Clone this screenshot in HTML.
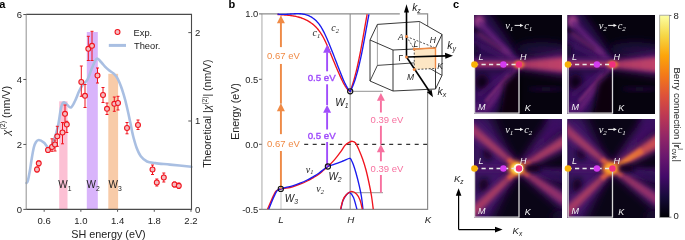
<!DOCTYPE html>
<html><head><meta charset="utf-8"><title>Figure</title>
<style>html,body{margin:0;padding:0;background:#fff;}svg{display:block;}</style></head>
<body>
<svg xmlns="http://www.w3.org/2000/svg" width="685" height="240" viewBox="0 0 685 240">
<defs>
<clipPath id="clipb"><rect x="262" y="0" width="166" height="209.3"/></clipPath>
<filter id="b0_8" x="-50%" y="-50%" width="200%" height="200%"><feGaussianBlur stdDeviation="0.8"/></filter>
<filter id="b1" x="-50%" y="-50%" width="200%" height="200%"><feGaussianBlur stdDeviation="1"/></filter>
<filter id="b1_2" x="-50%" y="-50%" width="200%" height="200%"><feGaussianBlur stdDeviation="1.2"/></filter>
<filter id="b1_5" x="-50%" y="-50%" width="200%" height="200%"><feGaussianBlur stdDeviation="1.5"/></filter>
<filter id="b1_8" x="-50%" y="-50%" width="200%" height="200%"><feGaussianBlur stdDeviation="1.8"/></filter>
<filter id="b2" x="-50%" y="-50%" width="200%" height="200%"><feGaussianBlur stdDeviation="2"/></filter>
<filter id="b2_2" x="-50%" y="-50%" width="200%" height="200%"><feGaussianBlur stdDeviation="2.2"/></filter>
<filter id="b2_5" x="-50%" y="-50%" width="200%" height="200%"><feGaussianBlur stdDeviation="2.5"/></filter>
<filter id="b2_8" x="-50%" y="-50%" width="200%" height="200%"><feGaussianBlur stdDeviation="2.8"/></filter>
<filter id="b3" x="-50%" y="-50%" width="200%" height="200%"><feGaussianBlur stdDeviation="3"/></filter>
<filter id="b4" x="-50%" y="-50%" width="200%" height="200%"><feGaussianBlur stdDeviation="4"/></filter>
<filter id="b4_5" x="-50%" y="-50%" width="200%" height="200%"><feGaussianBlur stdDeviation="4.5"/></filter>
<filter id="b5" x="-50%" y="-50%" width="200%" height="200%"><feGaussianBlur stdDeviation="5"/></filter>
<filter id="b6" x="-50%" y="-50%" width="200%" height="200%"><feGaussianBlur stdDeviation="6"/></filter>
<filter id="b8" x="-50%" y="-50%" width="200%" height="200%"><feGaussianBlur stdDeviation="8"/></filter>
<clipPath id="clip_tl"><rect x="0" y="0" width="88.0" height="99"/></clipPath>
<linearGradient id="g1" gradientUnits="userSpaceOnUse" x1="45.0" y1="49.0" x2="93.0" y2="48.6"><stop offset="0" stop-color="#4a146a"/><stop offset="1" stop-color="#561a70"/></linearGradient>
<linearGradient id="g2" gradientUnits="userSpaceOnUse" x1="45.0" y1="49.5" x2="93.0" y2="49.5"><stop offset="0" stop-color="#a83662"/><stop offset="1" stop-color="#c2446a"/></linearGradient>
<clipPath id="clip_tr"><rect x="0" y="0" width="87.5" height="99"/></clipPath>
<linearGradient id="g3" gradientUnits="userSpaceOnUse" x1="45.0" y1="49.0" x2="93.0" y2="48.6"><stop offset="0" stop-color="#4a146a"/><stop offset="1" stop-color="#561a70"/></linearGradient>
<linearGradient id="g4" gradientUnits="userSpaceOnUse" x1="45.0" y1="49.5" x2="93.0" y2="49.5"><stop offset="0" stop-color="#a83662"/><stop offset="1" stop-color="#c2446a"/></linearGradient>
<clipPath id="clip_bl"><rect x="0" y="0" width="88.0" height="99"/></clipPath>
<linearGradient id="g5" gradientUnits="userSpaceOnUse" x1="57.0" y1="52.5" x2="96.8" y2="56.0"><stop offset="0" stop-color="#3e1266"/><stop offset="1" stop-color="#4a1468"/></linearGradient>
<linearGradient id="g6" gradientUnits="userSpaceOnUse" x1="45.0" y1="49.5" x2="86.8" y2="-0.3"><stop offset="0" stop-color="#4a1468"/><stop offset="1" stop-color="#3a1062"/></linearGradient>
<linearGradient id="g7" gradientUnits="userSpaceOnUse" x1="45.0" y1="49.5" x2="92.0" y2="59.5"><stop offset="0" stop-color="#3a1062"/><stop offset="1" stop-color="#2a0c4e"/></linearGradient>
<linearGradient id="g8" gradientUnits="userSpaceOnUse" x1="45.0" y1="49.5" x2="-10.2" y2="3.2"><stop offset="0" stop-color="#5a1a72"/><stop offset="1" stop-color="#42136a"/></linearGradient>
<linearGradient id="g9" gradientUnits="userSpaceOnUse" x1="45.0" y1="49.5" x2="-10.2" y2="3.2"><stop offset="0" stop-color="#c24a5e"/><stop offset="1" stop-color="#9a3468"/></linearGradient>
<linearGradient id="g10" gradientUnits="userSpaceOnUse" x1="45.0" y1="49.5" x2="34.0" y2="40.2"><stop offset="0" stop-color="#ee7a34"/><stop offset="1" stop-color="#d0504c"/></linearGradient>
<linearGradient id="g11" gradientUnits="userSpaceOnUse" x1="45.0" y1="49.5" x2="94.7" y2="19.6"><stop offset="0" stop-color="#5a1a72"/><stop offset="1" stop-color="#42136a"/></linearGradient>
<linearGradient id="g12" gradientUnits="userSpaceOnUse" x1="45.0" y1="49.5" x2="94.7" y2="19.6"><stop offset="0" stop-color="#bc4460"/><stop offset="1" stop-color="#a63a64"/></linearGradient>
<linearGradient id="g13" gradientUnits="userSpaceOnUse" x1="45.0" y1="49.5" x2="55.9" y2="42.9"><stop offset="0" stop-color="#e86e3a"/><stop offset="1" stop-color="#c84c54"/></linearGradient>
<linearGradient id="g14" gradientUnits="userSpaceOnUse" x1="45.0" y1="49.5" x2="-4.3" y2="96.3"><stop offset="0" stop-color="#5a1a72"/><stop offset="1" stop-color="#42136a"/></linearGradient>
<linearGradient id="g15" gradientUnits="userSpaceOnUse" x1="45.0" y1="49.5" x2="-4.3" y2="96.3"><stop offset="0" stop-color="#c44c5a"/><stop offset="1" stop-color="#a23668"/></linearGradient>
<linearGradient id="g16" gradientUnits="userSpaceOnUse" x1="45.0" y1="49.5" x2="34.1" y2="59.8"><stop offset="0" stop-color="#ee7a34"/><stop offset="1" stop-color="#d0504c"/></linearGradient>
<linearGradient id="g17" gradientUnits="userSpaceOnUse" x1="45.0" y1="49.5" x2="94.1" y2="83.9"><stop offset="0" stop-color="#521870"/><stop offset="1" stop-color="#3c1164"/></linearGradient>
<linearGradient id="g18" gradientUnits="userSpaceOnUse" x1="45.0" y1="49.5" x2="94.1" y2="83.9"><stop offset="0" stop-color="#b8405e"/><stop offset="1" stop-color="#8a2c70"/></linearGradient>
<linearGradient id="g19" gradientUnits="userSpaceOnUse" x1="45.0" y1="49.5" x2="54.8" y2="56.4"><stop offset="0" stop-color="#e06a3c"/><stop offset="1" stop-color="#c04858"/></linearGradient>
<clipPath id="clip_br"><rect x="0" y="0" width="87.5" height="99"/></clipPath>
<linearGradient id="g20" gradientUnits="userSpaceOnUse" x1="57.0" y1="52.5" x2="96.8" y2="56.0"><stop offset="0" stop-color="#3e1266"/><stop offset="1" stop-color="#4a1468"/></linearGradient>
<linearGradient id="g21" gradientUnits="userSpaceOnUse" x1="45.0" y1="49.5" x2="86.8" y2="-0.3"><stop offset="0" stop-color="#4a1468"/><stop offset="1" stop-color="#3a1062"/></linearGradient>
<linearGradient id="g22" gradientUnits="userSpaceOnUse" x1="45.0" y1="49.5" x2="92.0" y2="59.5"><stop offset="0" stop-color="#3a1062"/><stop offset="1" stop-color="#2a0c4e"/></linearGradient>
<linearGradient id="g23" gradientUnits="userSpaceOnUse" x1="45.0" y1="49.5" x2="-10.2" y2="3.2"><stop offset="0" stop-color="#5a1a72"/><stop offset="1" stop-color="#42136a"/></linearGradient>
<linearGradient id="g24" gradientUnits="userSpaceOnUse" x1="45.0" y1="49.5" x2="-10.2" y2="3.2"><stop offset="0" stop-color="#c24a5e"/><stop offset="1" stop-color="#9a3468"/></linearGradient>
<linearGradient id="g25" gradientUnits="userSpaceOnUse" x1="45.0" y1="49.5" x2="34.0" y2="40.2"><stop offset="0" stop-color="#ee7a34"/><stop offset="1" stop-color="#d0504c"/></linearGradient>
<linearGradient id="g26" gradientUnits="userSpaceOnUse" x1="45.0" y1="49.5" x2="94.7" y2="19.6"><stop offset="0" stop-color="#6a1e72"/><stop offset="1" stop-color="#4e1670"/></linearGradient>
<linearGradient id="g27" gradientUnits="userSpaceOnUse" x1="45.0" y1="49.5" x2="94.7" y2="19.6"><stop offset="0" stop-color="#d85a48"/><stop offset="1" stop-color="#c84c54"/></linearGradient>
<linearGradient id="g28" gradientUnits="userSpaceOnUse" x1="45.0" y1="49.5" x2="74.8" y2="31.6"><stop offset="0" stop-color="#f08a30"/><stop offset="1" stop-color="#e06a3a"/></linearGradient>
<linearGradient id="g29" gradientUnits="userSpaceOnUse" x1="45.0" y1="49.5" x2="-4.3" y2="96.3"><stop offset="0" stop-color="#5a1a72"/><stop offset="1" stop-color="#42136a"/></linearGradient>
<linearGradient id="g30" gradientUnits="userSpaceOnUse" x1="45.0" y1="49.5" x2="-4.3" y2="96.3"><stop offset="0" stop-color="#c44c5a"/><stop offset="1" stop-color="#a23668"/></linearGradient>
<linearGradient id="g31" gradientUnits="userSpaceOnUse" x1="45.0" y1="49.5" x2="34.1" y2="59.8"><stop offset="0" stop-color="#ee7a34"/><stop offset="1" stop-color="#d0504c"/></linearGradient>
<linearGradient id="g32" gradientUnits="userSpaceOnUse" x1="45.0" y1="49.5" x2="94.1" y2="83.9"><stop offset="0" stop-color="#521870"/><stop offset="1" stop-color="#3c1164"/></linearGradient>
<linearGradient id="g33" gradientUnits="userSpaceOnUse" x1="45.0" y1="49.5" x2="94.1" y2="83.9"><stop offset="0" stop-color="#b8405e"/><stop offset="1" stop-color="#8a2c70"/></linearGradient>
<linearGradient id="g34" gradientUnits="userSpaceOnUse" x1="45.0" y1="49.5" x2="54.8" y2="56.4"><stop offset="0" stop-color="#e06a3c"/><stop offset="1" stop-color="#c04858"/></linearGradient>
<linearGradient id="cbar" x1="0" y1="1" x2="0" y2="0"><stop offset="0.00" stop-color="#000004"/><stop offset="0.10" stop-color="#160b39"/><stop offset="0.20" stop-color="#420a68"/><stop offset="0.30" stop-color="#6a176e"/><stop offset="0.40" stop-color="#932667"/><stop offset="0.50" stop-color="#bc3754"/><stop offset="0.60" stop-color="#dd513a"/><stop offset="0.70" stop-color="#f37819"/><stop offset="0.80" stop-color="#fca50a"/><stop offset="0.90" stop-color="#f6d746"/><stop offset="1.00" stop-color="#fcffa4"/></linearGradient>
</defs>
<rect width="685" height="240" fill="#fff"/>
<g id="pa">
<text x="-0.8" y="8" font-family="'Liberation Sans', Arial, Helvetica, sans-serif" font-weight="bold" font-size="11">a</text>
<rect x="59.2" y="101.3" width="8.3" height="108.1" fill="#fcc0d4"/>
<rect x="86.8" y="32" width="11" height="177.4" fill="#d9b4fb"/>
<rect x="108.3" y="73.8" width="9.8" height="135.6" fill="#f8cba8"/>
<text x="58.3" y="188.3" font-family="'Liberation Sans', Arial, Helvetica, sans-serif" font-size="10" fill="#222">W<tspan font-size="6.8" dy="2.2">1</tspan></text>
<text x="86.6" y="188.3" font-family="'Liberation Sans', Arial, Helvetica, sans-serif" font-size="10" fill="#222">W<tspan font-size="6.8" dy="2.2">2</tspan></text>
<text x="108.6" y="188.3" font-family="'Liberation Sans', Arial, Helvetica, sans-serif" font-size="10" fill="#222">W<tspan font-size="6.8" dy="2.2">3</tspan></text>
<path d="M26.50,183.00 C26.72,182.67 27.22,183.17 27.80,181.00 C28.38,178.83 29.38,173.50 30.00,170.00 C30.62,166.50 30.87,163.75 31.50,160.00 C32.13,156.25 33.05,150.50 33.80,147.50 C34.55,144.50 35.17,143.25 36.00,142.00 C36.83,140.75 37.50,139.92 38.80,140.00 C40.10,140.08 42.35,141.33 43.80,142.50 C45.25,143.67 46.47,146.08 47.50,147.00 C48.53,147.92 48.92,149.17 50.00,148.00 C51.08,146.83 52.67,143.67 54.00,140.00 C55.33,136.33 56.83,131.33 58.00,126.00 C59.17,120.67 60.12,111.92 61.00,108.00 C61.88,104.08 62.38,103.17 63.30,102.50 C64.22,101.83 65.25,103.17 66.50,104.00 C67.75,104.83 69.38,108.00 70.80,107.50 C72.22,107.00 73.60,103.75 75.00,101.00 C76.40,98.25 77.87,93.75 79.20,91.00 C80.53,88.25 81.62,86.40 83.00,84.50 C84.38,82.60 86.00,82.35 87.50,79.60 C89.00,76.85 90.47,71.47 92.00,68.00 C93.53,64.53 95.20,59.75 96.70,58.75 C98.20,57.75 99.62,60.67 101.00,62.00 C102.38,63.33 103.67,65.32 105.00,66.70 C106.33,68.08 107.62,69.20 109.00,70.30 C110.38,71.40 112.08,72.27 113.30,73.30 C114.52,74.33 115.38,75.22 116.30,76.50 C117.22,77.78 117.98,79.25 118.80,81.00 C119.62,82.75 120.45,84.95 121.20,87.00 C121.95,89.05 122.63,91.13 123.30,93.30 C123.97,95.47 124.60,97.72 125.20,100.00 C125.80,102.28 126.33,104.58 126.90,107.00 C127.47,109.42 128.02,111.83 128.60,114.50 C129.18,117.17 129.83,120.25 130.40,123.00 C130.97,125.75 131.48,128.58 132.00,131.00 C132.52,133.42 132.72,134.67 133.50,137.50 C134.28,140.33 135.48,144.88 136.70,148.00 C137.92,151.12 139.08,154.00 140.80,156.25 C142.52,158.50 144.57,160.36 147.00,161.50 C149.43,162.64 151.57,162.58 155.40,163.10 C159.23,163.62 164.02,163.98 170.00,164.60 C175.98,165.22 187.75,166.43 191.30,166.80" fill="none" stroke="#a9bfe2" stroke-width="2.6" stroke-linecap="round" stroke-linejoin="round"/>
<path d="M37.00,167.00 V172.00 M35.50,167.00 h3 M35.50,172.00 h3" stroke="#f0141e" stroke-width="1" fill="none"/>
<path d="M38.75,161.00 V166.00 M37.25,161.00 h3 M37.25,166.00 h3" stroke="#f0141e" stroke-width="1" fill="none"/>
<path d="M48.00,147.50 V152.50 M46.50,147.50 h3 M46.50,152.50 h3" stroke="#f0141e" stroke-width="1" fill="none"/>
<path d="M52.00,138.80 V151.30 M50.50,138.80 h3 M50.50,151.30 h3" stroke="#f0141e" stroke-width="1" fill="none"/>
<path d="M55.00,140.00 V151.00 M53.50,140.00 h3 M53.50,151.00 h3" stroke="#f0141e" stroke-width="1" fill="none"/>
<path d="M57.30,126.30 V146.30 M55.80,126.30 h3 M55.80,146.30 h3" stroke="#f0141e" stroke-width="1" fill="none"/>
<path d="M62.50,122.50 V143.80 M61.00,122.50 h3 M61.00,143.80 h3" stroke="#f0141e" stroke-width="1" fill="none"/>
<path d="M65.00,105.00 V123.80 M63.50,105.00 h3 M63.50,123.80 h3" stroke="#f0141e" stroke-width="1" fill="none"/>
<path d="M66.80,121.30 V132.50 M65.30,121.30 h3 M65.30,132.50 h3" stroke="#f0141e" stroke-width="1" fill="none"/>
<path d="M81.30,66.00 V96.30 M79.80,66.00 h3 M79.80,96.30 h3" stroke="#f0141e" stroke-width="1" fill="none"/>
<path d="M85.00,84.50 V107.50 M83.50,84.50 h3 M83.50,107.50 h3" stroke="#f0141e" stroke-width="1" fill="none"/>
<path d="M88.30,36.30 V60.50 M86.80,36.30 h3 M86.80,60.50 h3" stroke="#f0141e" stroke-width="1" fill="none"/>
<path d="M92.00,31.30 V60.50 M90.50,31.30 h3 M90.50,60.50 h3" stroke="#f0141e" stroke-width="1" fill="none"/>
<path d="M97.50,68.00 V83.00 M96.00,68.00 h3 M96.00,83.00 h3" stroke="#f0141e" stroke-width="1" fill="none"/>
<path d="M103.00,87.50 V102.50 M101.50,87.50 h3 M101.50,102.50 h3" stroke="#f0141e" stroke-width="1" fill="none"/>
<path d="M107.00,103.00 V114.50 M105.50,103.00 h3 M105.50,114.50 h3" stroke="#f0141e" stroke-width="1" fill="none"/>
<path d="M114.30,97.00 V111.30 M112.80,97.00 h3 M112.80,111.30 h3" stroke="#f0141e" stroke-width="1" fill="none"/>
<path d="M118.00,96.30 V110.00 M116.50,96.30 h3 M116.50,110.00 h3" stroke="#f0141e" stroke-width="1" fill="none"/>
<path d="M127.00,122.50 V133.80 M125.50,122.50 h3 M125.50,133.80 h3" stroke="#f0141e" stroke-width="1" fill="none"/>
<path d="M138.00,120.00 V129.50 M136.50,120.00 h3 M136.50,129.50 h3" stroke="#f0141e" stroke-width="1" fill="none"/>
<path d="M152.50,165.00 V174.50 M151.00,165.00 h3 M151.00,174.50 h3" stroke="#f0141e" stroke-width="1" fill="none"/>
<path d="M156.80,179.00 V186.00 M155.30,179.00 h3 M155.30,186.00 h3" stroke="#f0141e" stroke-width="1" fill="none"/>
<path d="M163.80,173.00 V182.00 M162.30,173.00 h3 M162.30,182.00 h3" stroke="#f0141e" stroke-width="1" fill="none"/>
<path d="M174.50,182.00 V187.00 M173.00,182.00 h3 M173.00,187.00 h3" stroke="#f0141e" stroke-width="1" fill="none"/>
<path d="M178.80,183.00 V188.50 M177.30,183.00 h3 M177.30,188.50 h3" stroke="#f0141e" stroke-width="1" fill="none"/>
<circle cx="37.00" cy="169.50" r="2.45" fill="#f4bcc0" stroke="#f0141e" stroke-width="1.1"/>
<circle cx="38.75" cy="163.30" r="2.45" fill="#f4bcc0" stroke="#f0141e" stroke-width="1.1"/>
<circle cx="48.00" cy="150.00" r="2.45" fill="#f4bcc0" stroke="#f0141e" stroke-width="1.1"/>
<circle cx="52.00" cy="147.00" r="2.45" fill="#f4bcc0" stroke="#f0141e" stroke-width="1.1"/>
<circle cx="55.00" cy="144.50" r="2.45" fill="#f4bcc0" stroke="#f0141e" stroke-width="1.1"/>
<circle cx="57.30" cy="136.30" r="2.45" fill="#f4bcc0" stroke="#f0141e" stroke-width="1.1"/>
<circle cx="62.50" cy="132.50" r="2.45" fill="#f4bcc0" stroke="#f0141e" stroke-width="1.1"/>
<circle cx="65.00" cy="113.80" r="2.45" fill="#f4bcc0" stroke="#f0141e" stroke-width="1.1"/>
<circle cx="66.80" cy="124.50" r="2.45" fill="#f4bcc0" stroke="#f0141e" stroke-width="1.1"/>
<circle cx="81.30" cy="82.00" r="2.45" fill="#f4bcc0" stroke="#f0141e" stroke-width="1.1"/>
<circle cx="85.00" cy="95.80" r="2.45" fill="#f4bcc0" stroke="#f0141e" stroke-width="1.1"/>
<circle cx="88.30" cy="48.80" r="2.45" fill="#f4bcc0" stroke="#f0141e" stroke-width="1.1"/>
<circle cx="92.00" cy="45.80" r="2.45" fill="#f4bcc0" stroke="#f0141e" stroke-width="1.1"/>
<circle cx="97.50" cy="75.50" r="2.45" fill="#f4bcc0" stroke="#f0141e" stroke-width="1.1"/>
<circle cx="103.00" cy="95.00" r="2.45" fill="#f4bcc0" stroke="#f0141e" stroke-width="1.1"/>
<circle cx="107.00" cy="108.80" r="2.45" fill="#f4bcc0" stroke="#f0141e" stroke-width="1.1"/>
<circle cx="114.30" cy="103.80" r="2.45" fill="#f4bcc0" stroke="#f0141e" stroke-width="1.1"/>
<circle cx="118.00" cy="103.00" r="2.45" fill="#f4bcc0" stroke="#f0141e" stroke-width="1.1"/>
<circle cx="127.00" cy="128.00" r="2.45" fill="#f4bcc0" stroke="#f0141e" stroke-width="1.1"/>
<circle cx="138.00" cy="125.00" r="2.45" fill="#f4bcc0" stroke="#f0141e" stroke-width="1.1"/>
<circle cx="152.50" cy="169.50" r="2.45" fill="#f4bcc0" stroke="#f0141e" stroke-width="1.1"/>
<circle cx="156.80" cy="182.50" r="2.45" fill="#f4bcc0" stroke="#f0141e" stroke-width="1.1"/>
<circle cx="163.80" cy="177.50" r="2.45" fill="#f4bcc0" stroke="#f0141e" stroke-width="1.1"/>
<circle cx="174.50" cy="184.50" r="2.45" fill="#f4bcc0" stroke="#f0141e" stroke-width="1.1"/>
<circle cx="178.80" cy="185.80" r="2.45" fill="#f4bcc0" stroke="#f0141e" stroke-width="1.1"/>
<circle cx="117.5" cy="32" r="2.45" fill="#f4bcc0" stroke="#f0141e" stroke-width="1.1"/>
<line x1="108.8" y1="45.4" x2="126" y2="45.4" stroke="#a9bfe2" stroke-width="3"/>
<text x="133.6" y="35.5" font-family="'Liberation Sans', Arial, Helvetica, sans-serif" font-size="9.3" fill="#222">Exp.</text>
<text x="134" y="49.3" font-family="'Liberation Sans', Arial, Helvetica, sans-serif" font-size="9.3" fill="#222">Theor.</text>
<line x1="26.2" y1="14.4" x2="26.2" y2="209.4" stroke="#9a9a9a" stroke-width="1.1"/>
<path d="M26.2,14.4 H191.5 V209.4 H26.2" fill="none" stroke="#4a4a4a" stroke-width="1.1"/>
<line x1="23.3" y1="209.40" x2="26.2" y2="209.40" stroke="#555" stroke-width="1"/>
<text x="22" y="212.80" text-anchor="end" font-family="'Liberation Sans', Arial, Helvetica, sans-serif" font-size="9.5" fill="#222">0</text>
<line x1="23.3" y1="144.44" x2="26.2" y2="144.44" stroke="#555" stroke-width="1"/>
<text x="22" y="147.84" text-anchor="end" font-family="'Liberation Sans', Arial, Helvetica, sans-serif" font-size="9.5" fill="#222">2</text>
<line x1="23.3" y1="79.48" x2="26.2" y2="79.48" stroke="#555" stroke-width="1"/>
<text x="22" y="82.88" text-anchor="end" font-family="'Liberation Sans', Arial, Helvetica, sans-serif" font-size="9.5" fill="#222">4</text>
<line x1="23.3" y1="14.52" x2="26.2" y2="14.52" stroke="#555" stroke-width="1"/>
<text x="22" y="17.92" text-anchor="end" font-family="'Liberation Sans', Arial, Helvetica, sans-serif" font-size="9.5" fill="#222">6</text>
<text x="195" y="212.80" font-family="'Liberation Sans', Arial, Helvetica, sans-serif" font-size="9.5" fill="#222">0</text>
<line x1="188.3" y1="121.00" x2="191.5" y2="121.00" stroke="#555" stroke-width="1"/>
<text x="195" y="124.40" font-family="'Liberation Sans', Arial, Helvetica, sans-serif" font-size="9.5" fill="#222">1</text>
<line x1="188.3" y1="32.60" x2="191.5" y2="32.60" stroke="#555" stroke-width="1"/>
<text x="195" y="36.00" font-family="'Liberation Sans', Arial, Helvetica, sans-serif" font-size="9.5" fill="#222">2</text>
<line x1="44.16" y1="209.4" x2="44.16" y2="211.8" stroke="#555" stroke-width="1"/>
<text x="44.16" y="223.6" text-anchor="middle" font-family="'Liberation Sans', Arial, Helvetica, sans-serif" font-size="9.5" fill="#222">0.6</text>
<line x1="80.87" y1="209.4" x2="80.87" y2="211.8" stroke="#555" stroke-width="1"/>
<text x="80.87" y="223.6" text-anchor="middle" font-family="'Liberation Sans', Arial, Helvetica, sans-serif" font-size="9.5" fill="#222">1.0</text>
<line x1="117.57" y1="209.4" x2="117.57" y2="211.8" stroke="#555" stroke-width="1"/>
<text x="117.57" y="223.6" text-anchor="middle" font-family="'Liberation Sans', Arial, Helvetica, sans-serif" font-size="9.5" fill="#222">1.4</text>
<line x1="154.27" y1="209.4" x2="154.27" y2="211.8" stroke="#555" stroke-width="1"/>
<text x="154.27" y="223.6" text-anchor="middle" font-family="'Liberation Sans', Arial, Helvetica, sans-serif" font-size="9.5" fill="#222">1.8</text>
<line x1="190.98" y1="209.4" x2="190.98" y2="211.8" stroke="#555" stroke-width="1"/>
<text x="190.98" y="223.6" text-anchor="middle" font-family="'Liberation Sans', Arial, Helvetica, sans-serif" font-size="9.5" fill="#222">2.2</text>
<text x="108.5" y="237.9" text-anchor="middle" font-family="'Liberation Sans', Arial, Helvetica, sans-serif" font-size="10.8" fill="#222">SH energy (eV)</text>
<text transform="translate(9.6,110.7) rotate(-90)" text-anchor="middle" font-family="'Liberation Sans', Arial, Helvetica, sans-serif" font-size="10.7" fill="#222"><tspan font-style="italic">χ</tspan><tspan font-size="7" dy="-4.3">(2)</tspan><tspan dy="4.3"> (nm/V)</tspan></text>
<text transform="translate(211.3,113.6) rotate(-90)" text-anchor="middle" font-family="'Liberation Sans', Arial, Helvetica, sans-serif" font-size="10.5" fill="#222">Theoretical |<tspan font-style="italic">χ</tspan><tspan font-size="6.5" dy="-4">(2)</tspan><tspan dy="4">| (nm/V)</tspan></text>
</g>
<g id="pb">
<text x="228.5" y="8" font-family="'Liberation Sans', Arial, Helvetica, sans-serif" font-weight="bold" font-size="11">b</text>
<line x1="281" y1="14" x2="281" y2="209.3" stroke="#d2d2d2" stroke-width="1.3"/>
<line x1="350.2" y1="14" x2="350.2" y2="209.3" stroke="#a8a8a8" stroke-width="1.4"/>
<line x1="350.2" y1="91.4" x2="383" y2="91.4" stroke="#a8a8a8" stroke-width="1.2"/>
<line x1="350.2" y1="192.6" x2="383" y2="192.6" stroke="#a8a8a8" stroke-width="1.2"/>
<line x1="261.9" y1="13.8" x2="261.9" y2="209.3" stroke="#cfcfcf" stroke-width="1.8"/>
<path d="M261.9,13.9 H427.6 V209.3 H261.9" fill="none" stroke="#8c8c8c" stroke-width="1.2"/>
<line x1="259" y1="13.90" x2="261.9" y2="13.90" stroke="#666" stroke-width="1"/>
<text x="258.3" y="17.30" text-anchor="end" font-family="'Liberation Sans', Arial, Helvetica, sans-serif" font-size="9.4" fill="#222">1.0</text>
<line x1="259" y1="79.30" x2="261.9" y2="79.30" stroke="#666" stroke-width="1"/>
<text x="258.3" y="82.70" text-anchor="end" font-family="'Liberation Sans', Arial, Helvetica, sans-serif" font-size="9.4" fill="#222">0.5</text>
<line x1="259" y1="144.30" x2="261.9" y2="144.30" stroke="#666" stroke-width="1"/>
<text x="258.3" y="147.70" text-anchor="end" font-family="'Liberation Sans', Arial, Helvetica, sans-serif" font-size="9.4" fill="#222">0.0</text>
<line x1="259" y1="209.30" x2="261.9" y2="209.30" stroke="#666" stroke-width="1"/>
<text x="258.3" y="212.70" text-anchor="end" font-family="'Liberation Sans', Arial, Helvetica, sans-serif" font-size="9.4" fill="#222">-0.5</text>
<text x="281.0" y="223.2" text-anchor="middle" font-family="'Liberation Sans', Arial, Helvetica, sans-serif" font-style="italic" font-size="9.8" fill="#222">L</text>
<text x="350.8" y="223.2" text-anchor="middle" font-family="'Liberation Sans', Arial, Helvetica, sans-serif" font-style="italic" font-size="9.8" fill="#222">H</text>
<text x="428.0" y="223.2" text-anchor="middle" font-family="'Liberation Sans', Arial, Helvetica, sans-serif" font-style="italic" font-size="9.8" fill="#222">K</text>
<text transform="translate(238.6,111.5) rotate(-90)" text-anchor="middle" font-family="'Liberation Sans', Arial, Helvetica, sans-serif" font-size="10.6" fill="#222">Energy (eV)</text>
<line x1="304.2" y1="144.3" x2="427.6" y2="144.3" stroke="#333" stroke-width="1.2" stroke-dasharray="4,4.5"/>
<g fill="none" stroke-width="1.35" clip-path="url(#clipb)">
<path d="M277.50,14.50 L278.30,14.48 L279.10,14.55 L279.90,14.62 L280.70,14.68 L281.50,14.74 L282.30,14.81 L283.10,14.87 L283.90,14.93 L284.70,14.99 L285.50,15.06 L286.30,15.13 L287.10,15.20 L287.90,15.27 L288.70,15.35 L289.50,15.44 L290.30,15.54 L291.10,15.64 L291.90,15.75 L292.70,15.87 L293.50,15.99 L294.30,16.13 L295.10,16.28 L295.90,16.45 L296.70,16.62 L297.50,16.81 L298.30,17.02 L299.10,17.24 L299.90,17.48 L300.70,17.73 L301.50,18.00 L302.30,18.29 L303.10,18.60 L303.90,18.93 L304.70,19.28 L305.50,19.66 L306.30,20.05 L307.10,20.47 L307.90,20.91 L308.70,21.38 L309.50,21.88 L310.30,22.40 L311.10,22.95 L311.90,23.53 L312.70,24.14 L313.50,24.80 L314.30,25.50 L315.10,26.24 L315.90,27.04 L316.70,27.89 L317.50,28.80 L318.30,29.76 L319.10,30.79 L319.90,31.89 L320.70,33.06 L321.50,34.31 L322.30,35.64 L323.10,37.04 L323.90,38.54 L324.70,40.12 L325.50,41.77 L326.30,43.50 L327.10,45.29 L327.90,47.13 L328.70,49.01 L329.50,50.93 L330.30,52.87 L331.10,54.82 L331.90,56.78 L332.70,58.73 L333.50,60.67 L334.30,62.60 L335.10,64.52 L335.90,66.42 L336.70,68.30 L337.50,70.17 L338.30,72.01 L339.10,73.84 L339.90,75.63 L340.70,77.40 L341.50,79.11 L342.30,80.76 L343.10,82.35 L343.90,83.85 L344.70,85.25 L345.50,86.56 L346.30,87.74 L347.10,88.80 L347.90,89.73 L348.70,90.50 L349.50,91.10 L350.30,91.54 L350.30,91.30 L351.10,88.85 L351.90,86.52 L352.70,84.05 L353.50,81.42 L354.30,78.63 L355.10,75.68 L355.90,72.58 L356.70,69.31 L357.50,65.87 L358.30,62.25 L359.10,58.47 L359.90,54.50 L360.70,50.36 L361.50,46.05 L362.30,41.61 L363.10,37.08 L363.90,32.50 L364.70,27.92 L365.50,23.37 L366.30,18.90 L367.10,14.53 L367.20,14.30" stroke="#f0141e" stroke-linejoin="round"/>
<path d="M277.50,14.10 L278.30,14.13 L279.10,14.23 L279.90,14.31 L280.70,14.37 L281.50,14.41 L282.30,14.43 L283.10,14.43 L283.90,14.43 L284.70,14.41 L285.50,14.37 L286.30,14.33 L287.10,14.28 L287.90,14.23 L288.70,14.17 L289.50,14.11 L290.30,14.04 L291.10,13.98 L291.90,13.92 L292.70,13.86 L293.50,13.80 L294.30,13.75 L295.10,13.71 L295.90,13.68 L296.70,13.66 L297.50,13.65 L298.30,13.66 L299.10,13.68 L299.90,13.72 L300.70,13.78 L301.50,13.86 L302.30,13.96 L303.10,14.08 L303.90,14.23 L304.70,14.40 L305.50,14.61 L306.30,14.84 L307.10,15.10 L307.90,15.40 L308.70,15.73 L309.50,16.10 L310.30,16.51 L311.10,16.95 L311.90,17.43 L312.70,17.96 L313.50,18.53 L314.30,19.15 L315.10,19.82 L315.90,20.55 L316.70,21.35 L317.50,22.21 L318.30,23.15 L319.10,24.17 L319.90,25.27 L320.70,26.46 L321.50,27.75 L322.30,29.14 L323.10,30.62 L323.90,32.18 L324.70,33.81 L325.50,35.51 L326.30,37.27 L327.10,39.08 L327.90,40.94 L328.70,42.83 L329.50,44.76 L330.30,46.73 L331.10,48.72 L331.90,50.73 L332.70,52.77 L333.50,54.82 L334.30,56.88 L335.10,58.95 L335.90,61.03 L336.70,63.10 L337.50,65.17 L338.30,67.23 L339.10,69.28 L339.90,71.32 L340.70,73.33 L341.50,75.32 L342.30,77.26 L343.10,79.16 L343.90,80.98 L344.70,82.73 L345.50,84.38 L346.30,85.92 L347.10,87.33 L347.90,88.62 L348.70,89.75 L349.50,90.71 L350.30,91.50 L350.30,91.30 L351.10,89.72 L351.90,88.07 L352.70,86.24 L353.50,84.23 L354.30,82.04 L355.10,79.67 L355.90,77.12 L356.70,74.39 L357.50,71.49 L358.30,68.40 L359.10,65.14 L359.90,61.70 L360.70,58.09 L361.50,54.30 L362.30,50.33 L363.10,46.20 L363.90,41.95 L364.70,37.59 L365.50,33.18 L366.30,28.73 L367.10,24.28 L367.90,19.87 L368.70,15.53 L369.00,14.30" stroke="#1a1aee" stroke-linejoin="round"/>
<path d="M267.40,209.50 C268.05,208.00 270.02,203.37 271.30,200.50 C272.58,197.63 273.98,194.08 275.10,192.30 C276.22,190.52 277.05,190.37 278.00,189.80 C278.95,189.23 279.47,189.17 280.80,188.90 C282.13,188.63 284.03,188.55 286.00,188.20 C287.97,187.85 290.27,187.47 292.60,186.80 C294.93,186.13 297.57,185.17 300.00,184.20 C302.43,183.23 305.03,182.07 307.20,181.00 C309.37,179.93 311.07,178.92 313.00,177.80 C314.93,176.68 317.05,175.57 318.80,174.30 C320.55,173.03 321.98,171.50 323.50,170.20 C325.02,168.90 326.05,168.27 327.90,166.50 C329.75,164.73 332.45,162.07 334.60,159.60 C336.75,157.13 339.07,154.07 340.80,151.70 C342.53,149.33 343.60,146.97 345.00,145.40 C346.40,143.83 347.98,142.98 349.20,142.30 C350.42,141.62 351.25,141.18 352.30,141.30 C353.35,141.42 354.38,141.55 355.50,143.00 C356.62,144.45 357.82,147.33 359.00,150.00 C360.18,152.67 361.43,155.67 362.60,159.00 C363.77,162.33 364.93,166.00 366.00,170.00 C367.07,174.00 368.08,178.67 369.00,183.00 C369.92,187.33 370.78,191.58 371.50,196.00 C372.22,200.42 373.00,207.25 373.30,209.50" stroke="#f0141e"/>
<path d="M268.60,209.50 C269.22,208.00 271.07,203.37 272.30,200.50 C273.53,197.63 274.97,194.12 276.00,192.30 C277.03,190.48 277.70,190.17 278.50,189.60 C279.30,189.03 279.55,189.27 280.80,188.90 C282.05,188.53 284.03,187.92 286.00,187.40 C287.97,186.88 290.27,186.50 292.60,185.80 C294.93,185.10 297.57,184.17 300.00,183.20 C302.43,182.23 305.03,181.07 307.20,180.00 C309.37,178.93 311.07,177.92 313.00,176.80 C314.93,175.68 317.05,174.52 318.80,173.30 C320.55,172.08 321.98,170.63 323.50,169.50 C325.02,168.37 326.05,167.38 327.90,166.50 C329.75,165.62 332.10,165.12 334.60,164.20 C337.10,163.28 340.40,161.98 342.90,161.00 C345.40,160.02 348.17,158.38 349.60,158.30 C351.03,158.22 350.88,159.47 351.50,160.50 C352.12,161.53 352.55,162.42 353.30,164.50 C354.05,166.58 354.98,169.37 356.00,173.00 C357.02,176.63 358.48,182.30 359.40,186.30 C360.32,190.30 360.90,193.13 361.50,197.00 C362.10,200.87 362.75,207.42 363.00,209.50" stroke="#1a1aee"/>
<path d="M340.80,209.50 C341.17,208.00 342.05,202.95 343.00,200.50 C343.95,198.05 345.38,196.12 346.50,194.80 C347.62,193.48 348.53,192.15 349.70,192.60 C350.87,193.05 352.28,194.68 353.50,197.50 C354.72,200.32 356.42,207.50 357.00,209.50" stroke="#1a1aee"/>
<path d="M340.50,209.50 C340.92,207.92 342.00,202.50 343.00,200.00 C344.00,197.50 345.08,195.93 346.50,194.50 C347.92,193.07 349.83,191.48 351.50,191.40 C353.17,191.32 355.08,192.57 356.50,194.00 C357.92,195.43 359.02,197.42 360.00,200.00 C360.98,202.58 362.00,207.92 362.40,209.50" stroke="#f0141e"/>
</g>
<line x1="280.90" y1="151.00" x2="280.90" y2="188.90" stroke="#f08a45" stroke-width="1.9"/><line x1="280.90" y1="110.90" x2="280.90" y2="134.30" stroke="#f08a45" stroke-width="1.9"/><path d="M280.90,103.30 L276.90,111.20 L284.90,111.20 Z" fill="#f08a45"/>
<line x1="280.90" y1="63.80" x2="280.90" y2="103.50" stroke="#f08a45" stroke-width="1.9"/><line x1="280.90" y1="23.00" x2="280.90" y2="47.30" stroke="#f08a45" stroke-width="1.9"/><path d="M280.90,15.40 L276.90,23.30 L284.90,23.30 Z" fill="#f08a45"/>
<line x1="327.10" y1="142.00" x2="327.10" y2="166.50" stroke="#a04dfb" stroke-width="1.9"/><line x1="327.10" y1="112.50" x2="327.10" y2="129.50" stroke="#a04dfb" stroke-width="1.9"/><path d="M327.10,104.90 L323.10,112.80 L331.10,112.80 Z" fill="#a04dfb"/>
<line x1="327.10" y1="84.30" x2="327.10" y2="105.00" stroke="#a04dfb" stroke-width="1.9"/><line x1="327.10" y1="52.40" x2="327.10" y2="71.30" stroke="#a04dfb" stroke-width="1.9"/><path d="M327.10,44.80 L323.10,52.70 L331.10,52.70 Z" fill="#a04dfb"/>
<line x1="380.90" y1="175.00" x2="380.90" y2="192.60" stroke="#f7709f" stroke-width="1.9"/><line x1="380.90" y1="151.90" x2="380.90" y2="161.30" stroke="#f7709f" stroke-width="1.9"/><path d="M380.90,144.30 L376.90,152.20 L384.90,152.20 Z" fill="#f7709f"/>
<line x1="380.90" y1="125.80" x2="380.90" y2="144.30" stroke="#f7709f" stroke-width="1.9"/><line x1="380.90" y1="100.50" x2="380.90" y2="112.50" stroke="#f7709f" stroke-width="1.9"/><path d="M380.90,92.90 L376.90,100.80 L384.90,100.80 Z" fill="#f7709f"/>
<g font-family="'Liberation Sans', Arial, Helvetica, sans-serif" font-size="9.5">
<rect x="266" y="47.2" width="35" height="16.7" fill="#fff"/>
<rect x="266" y="134.3" width="35" height="16.7" fill="#fff"/>
<text x="267" y="59.3" fill="#f08a45">0.67 eV</text>
<text x="267" y="147.4" fill="#f08a45">0.67 eV</text>
<text x="307.7" y="81.2" fill="#a04dfb" stroke="#a04dfb" stroke-width="0.4" font-size="9.7">0.5 eV</text>
<text x="307.7" y="139.4" fill="#a04dfb" stroke="#a04dfb" stroke-width="0.4" font-size="9.7">0.5 eV</text>
<text x="370.6" y="122.9" fill="#f7709f">0.39 eV</text>
<text x="370.6" y="171.9" fill="#f7709f">0.39 eV</text>
</g>
<circle cx="350.20" cy="91.30" r="2.6" fill="none" stroke="#111" stroke-width="1.1"/>
<circle cx="327.90" cy="166.50" r="2.6" fill="none" stroke="#111" stroke-width="1.1"/>
<circle cx="280.80" cy="188.90" r="2.6" fill="none" stroke="#111" stroke-width="1.1"/>
<g font-family="'Liberation Sans', Arial, Helvetica, sans-serif" font-style="italic" font-size="10" fill="#222">
<text x="335.3" y="105.5">W<tspan font-size="6.8" dy="2">1</tspan></text>
<text x="328.4" y="180.2">W<tspan font-size="6.8" dy="2">2</tspan></text>
<text x="284.8" y="201.8">W<tspan font-size="6.8" dy="2">3</tspan></text>
</g>
<g font-family="'Liberation Serif', 'Times New Roman', serif" font-style="italic" font-size="10" fill="#222">
<text x="312.6" y="36.4">c<tspan font-size="6.5" dy="1.8">1</tspan></text>
<text x="331.2" y="30.8">c<tspan font-size="6.5" dy="1.8">2</tspan></text>
<text x="305.8" y="172.6">ν<tspan font-size="6.5" dy="1.8">1</tspan></text>
<text x="316.2" y="192.4">ν<tspan font-size="6.5" dy="1.8">2</tspan></text>
</g>
</g>
<g id="inset">
<polygon points="377.40,24.40 419.50,21.50 442.00,34.40 442.00,75.40 435.50,89.00 393.00,91.00 370.00,81.00 370.00,40.00" fill="#fff"/>
<rect x="399.8" y="2" width="17.5" height="14" fill="#fff"/>
<g stroke="#9a9a9a" stroke-width="0.9" fill="none">
<line x1="377.40" y1="24.40" x2="377.40" y2="65.40"/>
<line x1="419.50" y1="21.50" x2="419.50" y2="62.50"/>
</g>
<g stroke="#333" stroke-width="0.9" fill="none">
<polyline points="370.00,81.00 377.40,65.40 419.50,62.50 442.00,75.40"/>
</g>
<polygon points="414.25,49.00 435.50,48.00 435.50,68.50 414.25,69.50" fill="#fde6c4"/>
<g stroke="#222" stroke-width="0.8" stroke-dasharray="2,1.6" fill="none">
<line x1="406.50" y1="36.50" x2="414.25" y2="49.00"/>
<line x1="406.50" y1="36.50" x2="435.50" y2="48.00"/>
<line x1="414.25" y1="49.00" x2="414.25" y2="69.50"/>
<line x1="414.25" y1="69.50" x2="435.50" y2="68.50"/>
</g>
<g stroke="#222" stroke-width="0.9" fill="none" stroke-linejoin="round">
<polygon points="377.40,24.40 419.50,21.50 442.00,34.40 435.50,48.00 393.00,50.00 370.00,40.00"/>
<polyline points="442.00,75.40 435.50,89.00 393.00,91.00 370.00,81.00"/>
<line x1="442.00" y1="34.40" x2="442.00" y2="75.40"/>
<line x1="435.50" y1="48.00" x2="435.50" y2="89.00"/>
<line x1="393.00" y1="50.00" x2="393.00" y2="91.00"/>
<line x1="370.00" y1="40.00" x2="370.00" y2="81.00"/>
</g>
<polyline points="414.25,49.00 435.50,48.00 435.50,68.50" fill="none" stroke="#f08a45" stroke-width="1.4"/>
<g stroke="#000" stroke-width="1.6" fill="none">
<line x1="406.50" y1="57.00" x2="406.50" y2="12"/>
<line x1="406.50" y1="57.00" x2="446" y2="55.9"/>
<line x1="406.50" y1="57.00" x2="429.5" y2="91.5"/>
</g>
<path d="M406.5,4.2 L404,12.6 L409,12.6 Z" fill="#000"/>
<path d="M453,55.7 L445,52.8 L445.4,58.8 Z" fill="#000"/>
<path d="M433,97.3 L427,92.2 L431.6,89.8 Z" fill="#000"/>
<circle cx="406.50" cy="36.50" r="1.5" fill="#f08a45"/>
<circle cx="406.50" cy="57.00" r="1.5" fill="#f08a45"/>
<circle cx="414.25" cy="69.50" r="1.5" fill="#f08a45"/>
<circle cx="414.25" cy="49.00" r="1.5" fill="#f08a45"/>
<g font-family="'Liberation Sans', Arial, Helvetica, sans-serif" font-style="italic" font-size="8.5" fill="#222">
<text x="412.2" y="10.7" font-size="10.3">k<tspan font-size="7" dy="2.3">z</tspan></text>
<text x="447.3" y="48.6" font-size="10.3">k<tspan font-size="7" dy="2.3">y</tspan></text>
<text x="437.6" y="95" font-size="10.3">k<tspan font-size="7" dy="2.3">x</tspan></text>
<text x="398.1" y="39.6">A</text>
<text x="413.6" y="47.3">L</text>
<text x="429.8" y="43">H</text>
<text x="437.3" y="68.8">K</text>
<text x="407" y="80.4">M</text>
<text x="398.6" y="61.3" font-style="normal">Γ</text>
</g>
</g>
<g id="pc">
<text x="453" y="7.9" font-family="'Liberation Sans', Arial, Helvetica, sans-serif" font-weight="bold" font-size="11">c</text>
<g transform="translate(474.0,15.0)">
<g clip-path="url(#clip_tl)">
<rect x="-5" y="-5" width="98" height="109" fill="#06030e"/>
<polygon points="-5.0,-5.0 13.0,-5.0 47.0,44.0 44.0,50.0 -5.0,48.0" fill="#2a0c50" filter="url(#b4)" opacity="1.00"/>
<ellipse cx="5.0" cy="6.0" rx="5.0" ry="6.0" fill="#a8448a" filter="url(#b2_5)" opacity="1.00"/>
<line x1="6.0" y1="8.0" x2="40.0" y2="44.0" stroke="#64207a" stroke-width="5.0" stroke-linecap="round" filter="url(#b2_2)" opacity="1.00"/>
<line x1="-1.0" y1="14.0" x2="26.0" y2="34.0" stroke="#0c0418" stroke-width="3.0" stroke-linecap="round" filter="url(#b1_5)" opacity="0.85"/>
<line x1="5.0" y1="19.0" x2="33.0" y2="38.0" stroke="#6e2676" stroke-width="5.0" stroke-linecap="round" filter="url(#b2_5)" opacity="1.00"/>
<line x1="0.0" y1="27.0" x2="30.0" y2="43.0" stroke="#4a1668" stroke-width="3.0" stroke-linecap="round" filter="url(#b2)" opacity="1.00"/>
<ellipse cx="1.0" cy="36.0" rx="3.0" ry="8.0" fill="#1a0830" filter="url(#b2_5)" opacity="1.00"/>
<rect x="-5" y="43" width="52" height="12" fill="#5a1c6e" filter="url(#b2)"/>
<rect x="-5" y="46.5" width="52" height="6.5" fill="#a83662" filter="url(#b1_5)"/>
<polygon points="-5.0,54.0 44.0,54.0 22.0,104.0 -5.0,104.0" fill="#34105c" filter="url(#b4)" opacity="1.00"/>
<ellipse cx="8.0" cy="67.0" rx="7.0" ry="8.0" fill="#0e0619" filter="url(#b3)" opacity="1.00"/>
<line x1="42.0" y1="54.0" x2="12.0" y2="94.0" stroke="#6a2277" stroke-width="5.0" stroke-linecap="round" filter="url(#b2_2)" opacity="1.00"/>
<line x1="34.0" y1="60.0" x2="12.0" y2="86.0" stroke="#7a2a76" stroke-width="3.0" stroke-linecap="round" filter="url(#b1_8)" opacity="1.00"/>
<line x1="36.0" y1="55.0" x2="5.0" y2="80.0" stroke="#4a1668" stroke-width="3.0" stroke-linecap="round" filter="url(#b2)" opacity="1.00"/>
<polygon points="31.0,68.0 46.0,56.0 46.0,104.0 26.0,104.0" fill="#07030f" filter="url(#b3)" opacity="1.00"/>
<ellipse cx="4.0" cy="95.0" rx="7.0" ry="6.0" fill="#521870" filter="url(#b3)" opacity="1.00"/>
<ellipse cx="68.0" cy="34.0" rx="26.0" ry="7.0" fill="#1e0a3a" filter="url(#b4)" opacity="1.00"/>
<polygon points="45.0,54.0 93.1,61.6 92.9,35.6 45.0,44.0" fill="url(#g1)" filter="url(#b4_5)" opacity="1.00"/>
<polygon points="45.0,52.5 93.0,57.0 93.0,42.0 45.0,46.5" fill="url(#g2)" filter="url(#b2_2)" opacity="1.00"/>
<ellipse cx="72.0" cy="74.0" rx="18.0" ry="2.0" fill="#1a0834" filter="url(#b2)" opacity="1.00"/>
<ellipse cx="45.0" cy="49.5" rx="5.5" ry="3.8" fill="#f07838" filter="url(#b1_5)" opacity="1.00"/>
</g>
<path d="M0.6,49.5 V98.2 H45.0 V49.5" fill="none" stroke="#d8d8d8" stroke-width="1.3"/>
<line x1="0" y1="49.5" x2="45.0" y2="49.5" stroke="#e8e8e8" stroke-width="1.3" stroke-dasharray="4.2,3.3"/>
<circle cx="0.5" cy="49.5" r="3.3" fill="#f9b208"/>
<circle cx="29.4" cy="49.5" r="3.2" fill="#d43cf0"/>
<circle cx="45.0" cy="49.5" r="3.2" fill="#f0307e"/>
<g font-family="'Liberation Sans', Arial, Helvetica, sans-serif" font-style="italic" font-size="9" fill="#f4f4f4">
<text x="4.6" y="45">L</text>
<text x="46" y="45.2">H</text>
<text x="4" y="95">M</text>
<text x="50.8" y="96">K</text>
</g>
<g font-family="'Liberation Serif', 'Times New Roman', serif" font-style="italic" font-size="10.5" fill="#f0f0f0">
<text x="31.2" y="13.6">v<tspan font-size="7" dy="2">1</tspan></text>
<text x="50.2" y="13.6">c<tspan font-size="7" dy="2">1</tspan></text>
</g>
<line x1="40.6" y1="10.4" x2="47" y2="10.4" stroke="#f0f0f0" stroke-width="1"/>
<path d="M49.4,10.4 L46,8.7 L46,12.1 Z" fill="#f0f0f0"/>
</g>
<g transform="translate(567.5,15.0)">
<g clip-path="url(#clip_tr)">
<rect x="-5" y="-5" width="98" height="109" fill="#06030e"/>
<polygon points="-5.0,-5.0 13.0,-5.0 47.0,44.0 44.0,50.0 -5.0,48.0" fill="#2a0c50" filter="url(#b4)" opacity="1.00"/>
<ellipse cx="5.0" cy="6.0" rx="5.0" ry="6.0" fill="#a8448a" filter="url(#b2_5)" opacity="1.00"/>
<line x1="6.0" y1="8.0" x2="40.0" y2="44.0" stroke="#64207a" stroke-width="5.0" stroke-linecap="round" filter="url(#b2_2)" opacity="1.00"/>
<line x1="-1.0" y1="14.0" x2="26.0" y2="34.0" stroke="#0c0418" stroke-width="3.0" stroke-linecap="round" filter="url(#b1_5)" opacity="0.85"/>
<line x1="5.0" y1="19.0" x2="33.0" y2="38.0" stroke="#6e2676" stroke-width="5.0" stroke-linecap="round" filter="url(#b2_5)" opacity="1.00"/>
<line x1="0.0" y1="27.0" x2="30.0" y2="43.0" stroke="#4a1668" stroke-width="3.0" stroke-linecap="round" filter="url(#b2)" opacity="1.00"/>
<ellipse cx="1.0" cy="36.0" rx="3.0" ry="8.0" fill="#1a0830" filter="url(#b2_5)" opacity="1.00"/>
<rect x="-5" y="43" width="52" height="12" fill="#5a1c6e" filter="url(#b2)"/>
<rect x="-5" y="46.5" width="52" height="6.5" fill="#a83662" filter="url(#b1_5)"/>
<polygon points="-5.0,54.0 44.0,54.0 22.0,104.0 -5.0,104.0" fill="#34105c" filter="url(#b4)" opacity="1.00"/>
<ellipse cx="8.0" cy="67.0" rx="7.0" ry="8.0" fill="#0e0619" filter="url(#b3)" opacity="1.00"/>
<line x1="42.0" y1="54.0" x2="12.0" y2="94.0" stroke="#6a2277" stroke-width="5.0" stroke-linecap="round" filter="url(#b2_2)" opacity="1.00"/>
<line x1="34.0" y1="60.0" x2="12.0" y2="86.0" stroke="#7a2a76" stroke-width="3.0" stroke-linecap="round" filter="url(#b1_8)" opacity="1.00"/>
<line x1="36.0" y1="55.0" x2="5.0" y2="80.0" stroke="#4a1668" stroke-width="3.0" stroke-linecap="round" filter="url(#b2)" opacity="1.00"/>
<polygon points="31.0,68.0 46.0,56.0 46.0,104.0 26.0,104.0" fill="#07030f" filter="url(#b3)" opacity="1.00"/>
<ellipse cx="4.0" cy="95.0" rx="7.0" ry="6.0" fill="#521870" filter="url(#b3)" opacity="1.00"/>
<ellipse cx="68.0" cy="34.0" rx="26.0" ry="7.0" fill="#1e0a3a" filter="url(#b4)" opacity="1.00"/>
<polygon points="45.0,54.0 93.1,61.6 92.9,35.6 45.0,44.0" fill="url(#g3)" filter="url(#b4_5)" opacity="1.00"/>
<polygon points="45.0,52.5 93.0,57.0 93.0,42.0 45.0,46.5" fill="url(#g4)" filter="url(#b2_2)" opacity="1.00"/>
<ellipse cx="72.0" cy="74.0" rx="18.0" ry="2.0" fill="#1a0834" filter="url(#b2)" opacity="1.00"/>
<ellipse cx="45.0" cy="49.5" rx="5.5" ry="3.8" fill="#f07838" filter="url(#b1_5)" opacity="1.00"/>
</g>
<path d="M0.6,49.5 V98.2 H45.0 V49.5" fill="none" stroke="#d8d8d8" stroke-width="1.3"/>
<line x1="0" y1="49.5" x2="45.0" y2="49.5" stroke="#e8e8e8" stroke-width="1.3" stroke-dasharray="4.2,3.3"/>
<circle cx="0.5" cy="49.5" r="3.3" fill="#f9b208"/>
<circle cx="29.4" cy="49.5" r="3.2" fill="#d43cf0"/>
<circle cx="45.0" cy="49.5" r="3.2" fill="#f0307e"/>
<g font-family="'Liberation Sans', Arial, Helvetica, sans-serif" font-style="italic" font-size="9" fill="#f4f4f4">
<text x="4.6" y="45">L</text>
<text x="46" y="45.2">H</text>
<text x="4" y="95">M</text>
<text x="50.8" y="96">K</text>
</g>
<g font-family="'Liberation Serif', 'Times New Roman', serif" font-style="italic" font-size="10.5" fill="#f0f0f0">
<text x="31.2" y="13.6">v<tspan font-size="7" dy="2">2</tspan></text>
<text x="50.2" y="13.6">c<tspan font-size="7" dy="2">2</tspan></text>
</g>
<line x1="40.6" y1="10.4" x2="47" y2="10.4" stroke="#f0f0f0" stroke-width="1"/>
<path d="M49.4,10.4 L46,8.7 L46,12.1 Z" fill="#f0f0f0"/>
</g>
<g transform="translate(474.0,119.0)">
<g clip-path="url(#clip_bl)">
<rect x="-5" y="-5" width="98" height="109" fill="#0a0516"/>
<polygon points="-5.0,-5.0 16.0,-5.0 36.0,42.0 36.0,58.0 16.0,104.0 -5.0,104.0" fill="#3a1262" filter="url(#b6)" opacity="1.00"/>
<polygon points="56.8,55.0 96.3,62.0 97.4,50.0 57.2,50.0" fill="url(#g5)" filter="url(#b3)" opacity="1.00"/>
<ellipse cx="14.0" cy="34.0" rx="5.0" ry="7.0" fill="#0a0516" filter="url(#b3)" opacity="1.00"/>
<ellipse cx="10.0" cy="67.0" rx="5.0" ry="8.0" fill="#0a0516" filter="url(#b3)" opacity="1.00"/>
<ellipse cx="88.0" cy="0.0" rx="14.0" ry="10.0" fill="#361060" filter="url(#b5)" opacity="1.00"/>
<ellipse cx="88.0" cy="99.0" rx="10.0" ry="8.0" fill="#1c0a36" filter="url(#b4)" opacity="1.00"/>
<ellipse cx="0.0" cy="99.0" rx="8.0" ry="8.0" fill="#3a1062" filter="url(#b4)" opacity="1.00"/>
<polygon points="46.5,50.8 94.4,6.1 79.1,-6.7 43.5,48.2" fill="url(#g6)" filter="url(#b4)" opacity="1.00"/>
<polygon points="44.6,51.5 90.7,65.3 93.2,53.6 45.4,47.5" fill="url(#g7)" filter="url(#b3)" opacity="1.00"/>
<polygon points="46.9,47.2 -4.0,-4.1 -16.3,10.5 43.1,51.8" fill="url(#g8)" filter="url(#b4)" opacity="1.00"/>
<polygon points="46.0,48.4 -6.9,-0.6 -13.4,7.0 44.0,50.6" fill="url(#g9)" filter="url(#b2_5)" opacity="1.00"/>
<polygon points="45.8,48.5 35.6,38.3 32.4,42.2 44.2,50.5" fill="url(#g10)" filter="url(#b1_8)" opacity="1.00"/>
<polygon points="46.5,52.1 99.6,27.8 89.8,11.5 43.5,46.9" fill="url(#g11)" filter="url(#b4)" opacity="1.00"/>
<polygon points="45.8,50.8 97.3,23.9 92.1,15.3 44.2,48.2" fill="url(#g12)" filter="url(#b2_5)" opacity="1.00"/>
<polygon points="45.6,50.6 57.2,45.1 54.6,40.8 44.4,48.4" fill="url(#g13)" filter="url(#b1_8)" opacity="1.00"/>
<polygon points="42.9,47.3 -10.9,89.4 2.2,103.2 47.1,51.7" fill="url(#g14)" filter="url(#b4)" opacity="1.00"/>
<polygon points="44.0,48.4 -7.8,92.7 -0.9,99.9 46.0,50.6" fill="url(#g15)" filter="url(#b2_5)" opacity="1.00"/>
<polygon points="44.1,48.6 32.4,58.0 35.9,61.6 45.9,50.4" fill="url(#g16)" filter="url(#b1_8)" opacity="1.00"/>
<polygon points="43.3,52.0 88.7,91.7 99.6,76.1 46.7,47.0" fill="url(#g17)" filter="url(#b4)" opacity="1.00"/>
<polygon points="44.1,50.7 91.3,88.0 97.0,79.8 45.9,48.3" fill="url(#g18)" filter="url(#b2_5)" opacity="1.00"/>
<polygon points="44.3,50.5 53.4,58.4 56.3,54.3 45.7,48.5" fill="url(#g19)" filter="url(#b1_8)" opacity="1.00"/>
<rect x="-5" y="46" width="44" height="7" fill="#4a1668" filter="url(#b2)"/>
<ellipse cx="59.0" cy="49.5" rx="9.0" ry="3.5" fill="#0a0516" filter="url(#b2_5)" opacity="1.00"/>
<ellipse cx="42.0" cy="49.5" rx="8.0" ry="7.5" fill="#f08a24" filter="url(#b2)" opacity="1.00"/>
<ellipse cx="43.0" cy="49.5" rx="5.8" ry="5.6" fill="#f8d048" filter="url(#b1_2)" opacity="1.00"/>
<ellipse cx="44.2" cy="49.5" rx="4.7" ry="4.7" fill="#fffde8" filter="url(#b0_7)" opacity="1.00"/>
</g>
<path d="M0.6,49.5 V98.2 H45.0 V49.5" fill="none" stroke="#d8d8d8" stroke-width="1.3"/>
<line x1="0" y1="49.5" x2="45.0" y2="49.5" stroke="#e8e8e8" stroke-width="1.3" stroke-dasharray="4.2,3.3"/>
<circle cx="0.5" cy="49.5" r="3.3" fill="#f9b208"/>
<circle cx="29.4" cy="49.5" r="3.2" fill="#d43cf0"/>
<circle cx="45.0" cy="49.5" r="4.3" fill="#fffbe8"/>
<circle cx="45.0" cy="49.5" r="3.2" fill="#f0307e"/>
<g font-family="'Liberation Sans', Arial, Helvetica, sans-serif" font-style="italic" font-size="9" fill="#f4f4f4">
<text x="4.6" y="45">L</text>
<text x="46" y="45.2">H</text>
<text x="4" y="95">M</text>
<text x="50.8" y="96">K</text>
</g>
<g font-family="'Liberation Serif', 'Times New Roman', serif" font-style="italic" font-size="10.5" fill="#f0f0f0">
<text x="31.2" y="13.6">v<tspan font-size="7" dy="2">1</tspan></text>
<text x="50.2" y="13.6">c<tspan font-size="7" dy="2">2</tspan></text>
</g>
<line x1="40.6" y1="10.4" x2="47" y2="10.4" stroke="#f0f0f0" stroke-width="1"/>
<path d="M49.4,10.4 L46,8.7 L46,12.1 Z" fill="#f0f0f0"/>
</g>
<g transform="translate(567.5,119.0)">
<g clip-path="url(#clip_br)">
<rect x="-5" y="-5" width="98" height="109" fill="#0a0516"/>
<polygon points="-5.0,-5.0 16.0,-5.0 36.0,42.0 36.0,58.0 16.0,104.0 -5.0,104.0" fill="#3a1262" filter="url(#b6)" opacity="1.00"/>
<polygon points="56.8,55.0 96.3,62.0 97.4,50.0 57.2,50.0" fill="url(#g20)" filter="url(#b3)" opacity="1.00"/>
<ellipse cx="14.0" cy="34.0" rx="5.0" ry="7.0" fill="#0a0516" filter="url(#b3)" opacity="1.00"/>
<ellipse cx="10.0" cy="67.0" rx="5.0" ry="8.0" fill="#0a0516" filter="url(#b3)" opacity="1.00"/>
<ellipse cx="88.0" cy="0.0" rx="14.0" ry="10.0" fill="#361060" filter="url(#b5)" opacity="1.00"/>
<ellipse cx="88.0" cy="99.0" rx="10.0" ry="8.0" fill="#1c0a36" filter="url(#b4)" opacity="1.00"/>
<ellipse cx="0.0" cy="99.0" rx="8.0" ry="8.0" fill="#3a1062" filter="url(#b4)" opacity="1.00"/>
<polygon points="46.5,50.8 94.4,6.1 79.1,-6.7 43.5,48.2" fill="url(#g21)" filter="url(#b4)" opacity="1.00"/>
<polygon points="44.6,51.5 90.7,65.3 93.2,53.6 45.4,47.5" fill="url(#g22)" filter="url(#b3)" opacity="1.00"/>
<polygon points="46.9,47.2 -4.0,-4.1 -16.3,10.5 43.1,51.8" fill="url(#g23)" filter="url(#b4)" opacity="1.00"/>
<polygon points="46.0,48.4 -6.9,-0.6 -13.4,7.0 44.0,50.6" fill="url(#g24)" filter="url(#b2_5)" opacity="1.00"/>
<polygon points="45.8,48.5 35.6,38.3 32.4,42.2 44.2,50.5" fill="url(#g25)" filter="url(#b1_8)" opacity="1.00"/>
<polygon points="46.5,52.1 99.6,27.8 89.8,11.5 43.5,46.9" fill="url(#g26)" filter="url(#b4)" opacity="1.00"/>
<polygon points="45.8,50.8 97.8,24.8 91.6,14.5 44.2,48.2" fill="url(#g27)" filter="url(#b2_5)" opacity="1.00"/>
<polygon points="45.6,50.6 76.4,34.1 73.3,29.0 44.4,48.4" fill="url(#g28)" filter="url(#b1_8)" opacity="1.00"/>
<polygon points="42.9,47.3 -10.9,89.4 2.2,103.2 47.1,51.7" fill="url(#g29)" filter="url(#b4)" opacity="1.00"/>
<polygon points="44.0,48.4 -7.8,92.7 -0.9,99.9 46.0,50.6" fill="url(#g30)" filter="url(#b2_5)" opacity="1.00"/>
<polygon points="44.1,48.6 32.4,58.0 35.9,61.6 45.9,50.4" fill="url(#g31)" filter="url(#b1_8)" opacity="1.00"/>
<polygon points="43.3,52.0 88.7,91.7 99.6,76.1 46.7,47.0" fill="url(#g32)" filter="url(#b4)" opacity="1.00"/>
<polygon points="44.1,50.7 91.3,88.0 97.0,79.8 45.9,48.3" fill="url(#g33)" filter="url(#b2_5)" opacity="1.00"/>
<polygon points="44.3,50.5 53.4,58.4 56.3,54.3 45.7,48.5" fill="url(#g34)" filter="url(#b1_8)" opacity="1.00"/>
<rect x="-5" y="46" width="44" height="7" fill="#4a1668" filter="url(#b2)"/>
<ellipse cx="59.0" cy="49.5" rx="9.0" ry="3.5" fill="#0a0516" filter="url(#b2_5)" opacity="1.00"/>
<ellipse cx="42.5" cy="49.5" rx="8.0" ry="7.0" fill="#ee7a26" filter="url(#b2_2)" opacity="1.00"/>
<ellipse cx="43.5" cy="49.5" rx="5.5" ry="5.0" fill="#f6a832" filter="url(#b1_5)" opacity="1.00"/>
</g>
<path d="M0.6,49.5 V98.2 H45.0 V49.5" fill="none" stroke="#d8d8d8" stroke-width="1.3"/>
<line x1="0" y1="49.5" x2="45.0" y2="49.5" stroke="#e8e8e8" stroke-width="1.3" stroke-dasharray="4.2,3.3"/>
<circle cx="0.5" cy="49.5" r="3.3" fill="#f9b208"/>
<circle cx="29.4" cy="49.5" r="3.2" fill="#d43cf0"/>
<circle cx="45.0" cy="49.5" r="3.2" fill="#f0307e"/>
<g font-family="'Liberation Sans', Arial, Helvetica, sans-serif" font-style="italic" font-size="9" fill="#f4f4f4">
<text x="4.6" y="45">L</text>
<text x="46" y="45.2">H</text>
<text x="4" y="95">M</text>
<text x="50.8" y="96">K</text>
</g>
<g font-family="'Liberation Serif', 'Times New Roman', serif" font-style="italic" font-size="10.5" fill="#f0f0f0">
<text x="31.2" y="13.6">v<tspan font-size="7" dy="2">2</tspan></text>
<text x="50.2" y="13.6">c<tspan font-size="7" dy="2">1</tspan></text>
</g>
<line x1="40.6" y1="10.4" x2="47" y2="10.4" stroke="#f0f0f0" stroke-width="1"/>
<path d="M49.4,10.4 L46,8.7 L46,12.1 Z" fill="#f0f0f0"/>
</g>
<rect x="659.7" y="15.2" width="9.7" height="202.2" fill="url(#cbar)" stroke="#9a9a9a" stroke-width="0.8"/>
<line x1="669.4" y1="15.5" x2="671.4" y2="15.5" stroke="#666" stroke-width="0.9"/>
<line x1="669.4" y1="217.2" x2="671.4" y2="217.2" stroke="#666" stroke-width="0.9"/>
<text x="673.4" y="19.4" font-family="'Liberation Sans', Arial, Helvetica, sans-serif" font-size="9.5" fill="#222">8</text>
<text x="673.4" y="218.8" font-family="'Liberation Sans', Arial, Helvetica, sans-serif" font-size="9.5" fill="#222">0</text>
<text transform="translate(674.4,67.4) rotate(90)" font-family="'Liberation Sans', Arial, Helvetica, sans-serif" font-size="9.6" fill="#222">Berry connection |<tspan font-weight="bold">r</tspan><tspan font-size="6.5" dy="-3.8" fill="#777" font-weight="bold">l</tspan><tspan font-size="6.8" dy="6" dx="-1.5">cvk</tspan><tspan dy="-2.2" dx="0.6">|</tspan></text>
<path d="M458.6,229.6 V192.6 M458.6,229.6 H497.5" fill="none" stroke="#000" stroke-width="1.2"/>
<path d="M458.6,188.3 L455.8,195.8 L461.4,195.8 Z" fill="#000"/>
<path d="M502.6,229.6 L495,226.8 L495,232.4 Z" fill="#000"/>
<text x="454" y="181.6" font-family="'Liberation Sans', Arial, Helvetica, sans-serif" font-style="italic" font-size="9.5" fill="#222">K<tspan font-size="6.5" dy="2">z</tspan></text>
<text x="512.6" y="233.6" font-family="'Liberation Sans', Arial, Helvetica, sans-serif" font-style="italic" font-size="9.5" fill="#222">K<tspan font-size="6.5" dy="2">x</tspan></text>
</g>
</svg>
</body></html>
